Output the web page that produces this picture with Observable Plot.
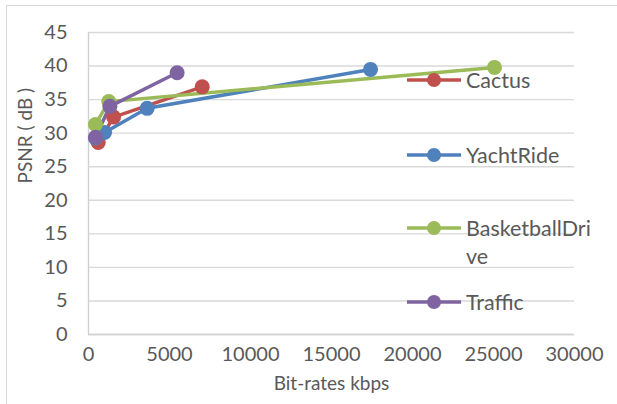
<!DOCTYPE html>
<html>
<head>
<meta charset="utf-8">
<script src="https://cdn.jsdelivr.net/npm/d3@7"></script>
<script src="https://cdn.jsdelivr.net/npm/@observablehq/plot@0.6"></script>
<style>
  html, body { margin: 0; padding: 0; background: #fff; }
  #chart { position: relative; width: 617px; height: 404px; overflow: hidden; font-family: Lato, "Open Sans", sans-serif; }
  #frame { position: absolute; left: 6px; top: 5px; right: -10px; bottom: -10px; border-top: 1.5px solid #d9d9d9; border-left: 1.5px solid #d9d9d9; }
  #chart svg.plot { position: absolute; left: 0; top: 0; }
  .legend-item { position: absolute; left: 407px; display: flex; align-items: flex-start; color: #595959; font-size: 21.5px; line-height: 28px; }
  .legend-item svg { margin-top: 7px; margin-right: 5px; }
</style>
</head>
<body>
<div id="chart"><div id="frame"></div></div>
<script>
// Rate–distortion points per test sequence (bit-rate in kbps, PSNR in dB)
const series = ["Cactus", "YachtRide", "BasketballDrive", "Traffic"];
const colors = ["#C0504D", "#4F81BD", "#9BBB59", "#8064A2"];

const cactusRate = [600, 1550, 7020];
const cactusPsnr = [28.6, 32.4, 36.9];

const yachtRideRate = [430, 990, 3620, 17410];
const yachtRidePsnr = [29.3, 30.1, 33.7, 39.5];

const basketballRate = [430, 1250, 25060];
const basketballPsnr = [31.3, 34.7, 39.8];

const trafficRate = [430, 1320, 5470];
const trafficPsnr = [29.4, 34.0, 39.0];

const xTicks = [0, 5000, 10000, 15000, 20000, 25000, 30000];
const yTicks = [0, 5, 10, 15, 20, 25, 30, 35, 40, 45];

const rates = [cactusRate, yachtRideRate, basketballRate, trafficRate];
const psnrs = [cactusPsnr, yachtRidePsnr, basketballPsnr, trafficPsnr];

const data = series.flatMap((name, i) =>
  rates[i].map((r, j) => ({series: name, rate: r, psnr: psnrs[i][j]}))
);

const textColor = "#595959";

const chart = Plot.plot({
  width: 617,
  height: 404,
  marginLeft: 88,
  marginRight: 43,
  marginTop: 32,
  marginBottom: 70,
  style: {fontFamily: "Lato, 'Open Sans', sans-serif", background: "transparent", overflow: "visible"},
  x: {domain: [0, 30000], ticks: xTicks},
  y: {domain: [0, 45], ticks: yTicks},
  color: {domain: series, range: colors},
  marks: [
    Plot.gridY(yTicks, {stroke: "#d9d9d9", strokeOpacity: 1, strokeWidth: 1.4}),
    Plot.ruleX([0], {stroke: "#d0d0d0", strokeWidth: 1.4}),
    Plot.ruleY([0], {stroke: "#d0d0d0", strokeWidth: 1.4}),
    Plot.axisX(xTicks, {tickSize: 0, tickPadding: 12, fontSize: 20, fill: textColor, label: null, tickFormat: d => String(d)}),
    Plot.axisY(yTicks, {tickSize: 0, tickPadding: 21, fontSize: 20, fill: textColor, label: null}),
    Plot.text(["Bit-rates kbps"], {frameAnchor: "bottom", dy: 55, fontSize: 19, fill: textColor}),
    Plot.text(["PSNR ( dB )"], {frameAnchor: "left", dx: -63, rotate: -90, fontSize: 19, fill: textColor}),
    Plot.line(data, {x: "rate", y: "psnr", z: "series", stroke: "series", strokeWidth: 3.5}),
    Plot.dot(data, {x: "rate", y: "psnr", fill: "series", r: 7.5})
  ]
});
chart.classList.add("plot");
document.getElementById("chart").appendChild(chart);

// Legend placed over the right part of the plot area
const legendRows = [80, 155, 228, 302];
series.forEach((name, i) => {
  const item = document.createElement("div");
  item.className = "legend-item";
  item.style.top = (legendRows[i] - 14) + "px";
  const sw = d3.create("svg").attr("width", 54).attr("height", 14);
  sw.append("line").attr("x1", 0).attr("x2", 54).attr("y1", 7).attr("y2", 7)
    .attr("stroke", colors[i]).attr("stroke-width", 3.5);
  sw.append("circle").attr("cx", 27).attr("cy", 7).attr("r", 7).attr("fill", colors[i]);
  item.appendChild(sw.node());
  const label = document.createElement("div");
  const lines = name.length > 13 ? [name.slice(0, 13), name.slice(13)] : [name];
  label.innerHTML = lines.join("<br>");
  item.appendChild(label);
  document.getElementById("chart").appendChild(item);
});
</script>
</body>
</html>
